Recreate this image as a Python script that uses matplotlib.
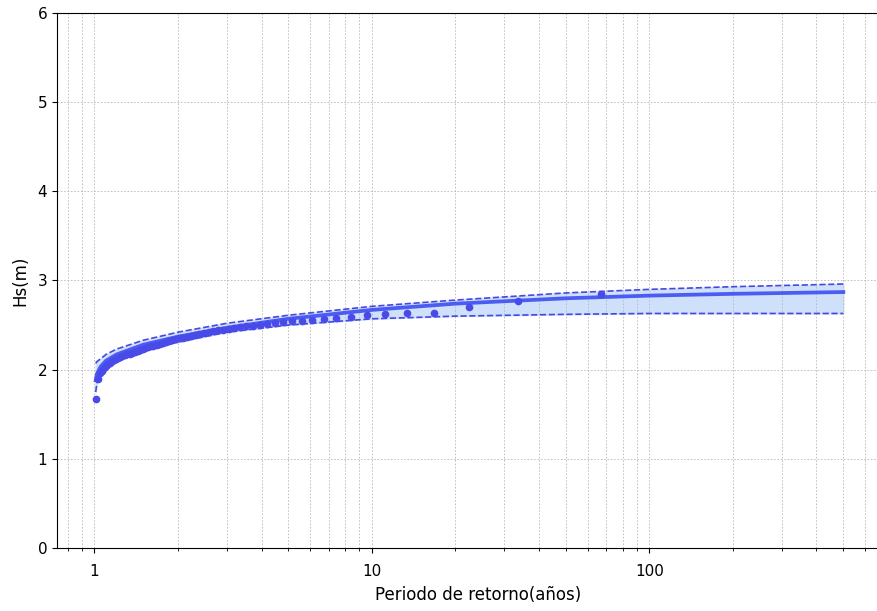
import matplotlib
matplotlib.use("Agg")
import matplotlib.pyplot as plt
from matplotlib.ticker import FixedLocator, FixedFormatter, LogLocator, NullFormatter

# fitted return level curve and confidence bounds
T_fit = [1.01, 1.02, 1.05, 1.1, 1.2, 1.5, 2, 3, 5, 10, 20, 50, 100, 200, 500]
Hs_fit = [1.88, 1.95, 2.03, 2.10, 2.17, 2.28, 2.37, 2.47, 2.57, 2.67, 2.74, 2.80, 2.83, 2.85, 2.87]
Hs_up = [2.07, 2.09, 2.12, 2.17, 2.23, 2.33, 2.42, 2.52, 2.61, 2.71, 2.78, 2.86, 2.90, 2.93, 2.96]
Hs_low = [1.75, 1.85, 1.95, 2.03, 2.11, 2.22, 2.31, 2.42, 2.50, 2.57, 2.60, 2.62, 2.63, 2.63, 2.63]

# empirical points
T_obs = [67.0, 33.5, 22.33, 16.75, 13.4, 11.17, 9.57, 8.38, 7.44, 6.7,
         6.09, 5.58, 5.15, 4.79, 4.47, 4.19, 3.94, 3.72, 3.53, 3.35,
         3.19, 3.05, 2.91, 2.79, 2.68, 2.58, 2.48, 2.39, 2.31, 2.23,
         2.16, 2.09, 2.03, 1.97, 1.91, 1.86, 1.81, 1.76, 1.72, 1.68,
         1.63, 1.60, 1.56, 1.52, 1.49, 1.46, 1.43, 1.40, 1.37, 1.34,
         1.31, 1.29, 1.26, 1.24, 1.22, 1.20, 1.18, 1.16, 1.14, 1.12,
         1.10, 1.08, 1.06, 1.05, 1.03, 1.015]
Hs_obs = [2.85, 2.77, 2.70, 2.64, 2.63, 2.62, 2.61, 2.59, 2.58, 2.57,
          2.56, 2.55, 2.54, 2.53, 2.52, 2.51, 2.50, 2.49, 2.49, 2.48,
          2.47, 2.46, 2.45, 2.44, 2.43, 2.42, 2.41, 2.40, 2.39, 2.38,
          2.37, 2.36, 2.35, 2.34, 2.33, 2.32, 2.31, 2.30, 2.29, 2.28,
          2.27, 2.26, 2.25, 2.24, 2.23, 2.22, 2.21, 2.20, 2.19, 2.18,
          2.17, 2.16, 2.15, 2.14, 2.13, 2.12, 2.11, 2.10, 2.08, 2.06,
          2.04, 2.02, 1.99, 1.96, 1.90, 1.67]

fig = plt.figure(figsize=(8.78, 6.11), dpi=100)
ax = fig.add_axes([0.065, 0.103, 0.96, 0.876])

ax.fill_between(T_fit, Hs_low, Hs_up, color="#cfe0fa", zorder=1)
ax.plot(T_fit, Hs_up, "--", color="#4747e6", lw=1.2, zorder=2)
ax.plot(T_fit, Hs_low, "--", color="#4747e6", lw=1.2, zorder=2)
ax.plot(T_fit, Hs_fit, "-", color="#4c5cf2", lw=2.7, zorder=3)
ax.plot(T_obs, Hs_obs, "o", color="#4a4ae8", ms=4.5, zorder=4)

ax.set_xscale("log")
ax.set_xlim(0.733, 800)
ax.set_ylim(0, 6)
ax.xaxis.set_major_locator(FixedLocator([1, 10, 100]))
ax.xaxis.set_major_formatter(FixedFormatter(["1", "10", "100"]))
ax.xaxis.set_minor_locator(LogLocator(base=10, subs=range(2, 10)))
ax.xaxis.set_minor_formatter(NullFormatter())
ax.set_yticks(range(0, 7))

ax.grid(True, which="both", linestyle=(0, (2, 2)), linewidth=0.6, color="#b8b8b8")
ax.tick_params(labelsize=11)
ax.tick_params(axis="x", pad=8)
ax.set_xlabel("Periodo de retorno(años)", fontsize=12, labelpad=5)
ax.set_ylabel("Hs(m)", fontsize=12, labelpad=6)

fig.savefig("out.png", dpi=100)
